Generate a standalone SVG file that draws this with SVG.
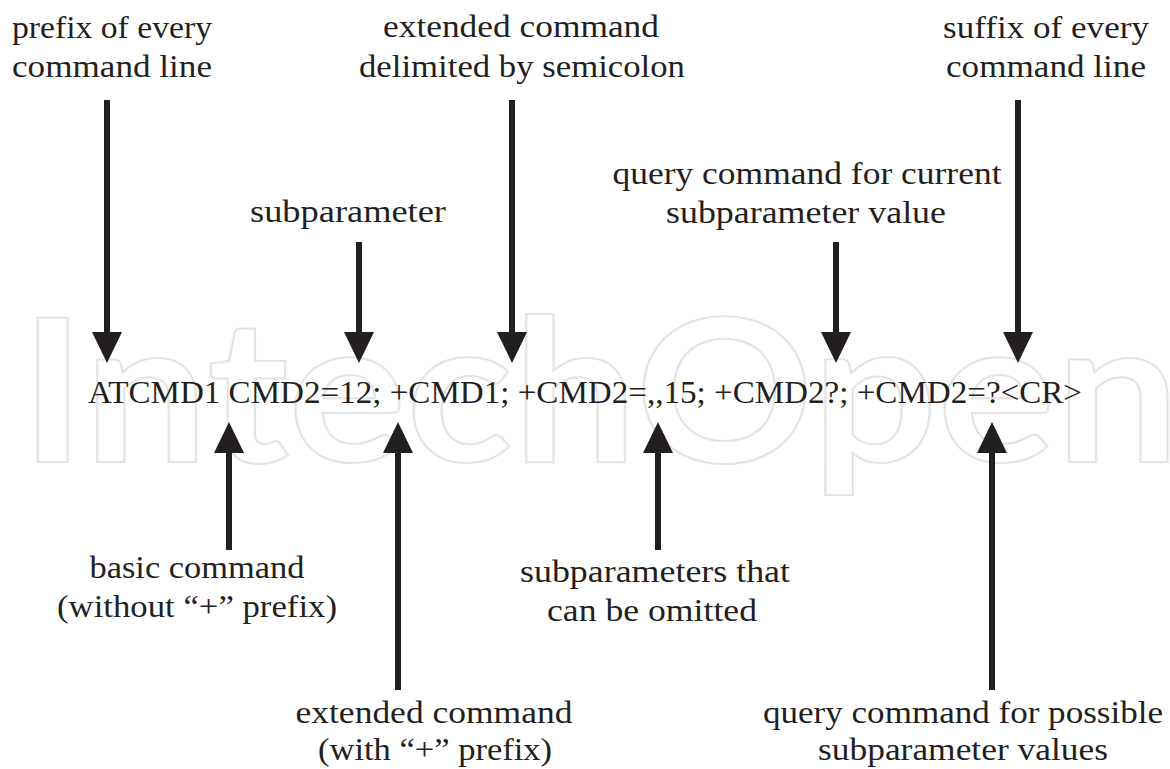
<svg xmlns="http://www.w3.org/2000/svg" width="1170" height="769" viewBox="0 0 1170 769">
  <style>
    .lbl { font-family: "Liberation Serif", "DejaVu Serif", serif; font-size: 31px; fill: #231f20; text-anchor: middle; }
    .cmd { font-family: "Liberation Serif", "DejaVu Serif", serif; font-size: 31px; fill: #231f20; }
    .wm { font-family: Lato, "Open Sans", sans-serif; font-size: 200px; font-weight: bold; fill: none; stroke: #e4e4e4; stroke-width: 2; }
    .conn line { stroke: #231f20; stroke-width: 6; marker-end: url(#ah); }
  </style>
  <defs>
    <marker id="ah" markerUnits="userSpaceOnUse" markerWidth="32" markerHeight="30" viewBox="0 0 32 30" refX="1" refY="15" orient="auto">
      <path d="M0,0 L31,15 L0,30 z" fill="#231f20"/>
    </marker>
  </defs>
  <rect width="1170" height="769" fill="#ffffff"/>

  <!-- background wordmark -->
  <text class="wm" x="20" y="462" textLength="1160" lengthAdjust="spacingAndGlyphs">IntechOpen</text>

  <!-- command line -->
  <g id="command">
    <text class="cmd" x="88" y="403" textLength="994" lengthAdjust="spacingAndGlyphs">ATCMD1 CMD2=12; +CMD1; +CMD2=,,15; +CMD2?; +CMD2=?&lt;CR&gt;</text>
  </g>

  <!-- labels above -->
  <g id="prefix">
    <text class="lbl" x="112" y="38" textLength="200" lengthAdjust="spacingAndGlyphs">prefix of every</text>
    <text class="lbl" x="112" y="77" textLength="200" lengthAdjust="spacingAndGlyphs">command line</text>
  </g>
  <g id="delimited">
    <text class="lbl" x="521" y="37" textLength="276" lengthAdjust="spacingAndGlyphs">extended command</text>
    <text class="lbl" x="522" y="77" textLength="326" lengthAdjust="spacingAndGlyphs">delimited by semicolon</text>
  </g>
  <g id="suffix">
    <text class="lbl" x="1046" y="38" textLength="206" lengthAdjust="spacingAndGlyphs">suffix of every</text>
    <text class="lbl" x="1046" y="77" textLength="200" lengthAdjust="spacingAndGlyphs">command line</text>
  </g>
  <g id="subparameter">
    <text class="lbl" x="348" y="222" textLength="196" lengthAdjust="spacingAndGlyphs">subparameter</text>
  </g>
  <g id="query-current">
    <text class="lbl" x="807" y="184" textLength="389" lengthAdjust="spacingAndGlyphs">query command for current</text>
    <text class="lbl" x="806" y="223" textLength="280" lengthAdjust="spacingAndGlyphs">subparameter value</text>
  </g>

  <!-- labels below -->
  <g id="basic">
    <text class="lbl" x="197" y="578" textLength="215" lengthAdjust="spacingAndGlyphs">basic command</text>
    <text class="lbl" x="197" y="617" textLength="280" lengthAdjust="spacingAndGlyphs">(without &#8220;+&#8221; prefix)</text>
  </g>
  <g id="omitted">
    <text class="lbl" x="655" y="582" textLength="270" lengthAdjust="spacingAndGlyphs">subparameters that</text>
    <text class="lbl" x="652" y="621" textLength="210" lengthAdjust="spacingAndGlyphs">can be omitted</text>
  </g>
  <g id="extended">
    <text class="lbl" x="434" y="723" textLength="277" lengthAdjust="spacingAndGlyphs">extended command</text>
    <text class="lbl" x="435" y="760" textLength="234" lengthAdjust="spacingAndGlyphs">(with &#8220;+&#8221; prefix)</text>
  </g>
  <g id="query-possible">
    <text class="lbl" x="963" y="723" textLength="400" lengthAdjust="spacingAndGlyphs">query command for possible</text>
    <text class="lbl" x="963" y="760" textLength="290" lengthAdjust="spacingAndGlyphs">subparameter values</text>
  </g>

  <!-- connectors -->
  <g id="connectors" class="conn">
    <line x1="107" y1="100" x2="107" y2="333"/>
    <line x1="512" y1="100" x2="512" y2="333"/>
    <line x1="1018" y1="100" x2="1018" y2="333"/>
    <line x1="359" y1="242" x2="359" y2="333"/>
    <line x1="836" y1="242" x2="836" y2="333"/>
    <line x1="229" y1="550" x2="229" y2="452"/>
    <line x1="398" y1="690" x2="398" y2="452"/>
    <line x1="658" y1="550" x2="658" y2="452"/>
    <line x1="992" y1="690" x2="992" y2="452"/>
  </g>
</svg>
